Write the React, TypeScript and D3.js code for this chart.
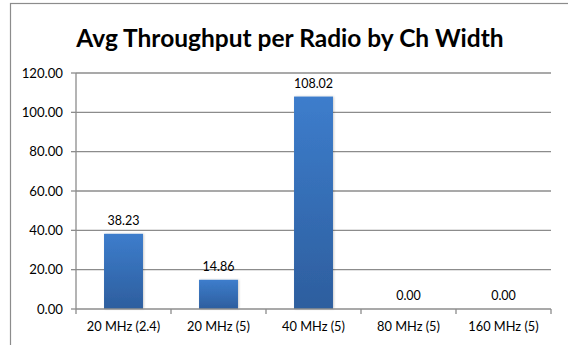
import React from "react";
import * as d3 from "d3";

const categories = ["20 MHz (2.4)", "20 MHz (5)", "40 MHz (5)", "80 MHz (5)", "160 MHz (5)"];
const values = [38.23, 14.86, 108.02, 0.0, 0.0];
const yTicks = [0, 20, 40, 60, 80, 100, 120];
const title = "Avg Throughput per Radio by Ch Width";

const W = 568;
const H = 345;
const margin = { left: 76, right: 17, top: 73, bottom: 36 };
const FONT = "Lato, 'Open Sans', sans-serif";

export default function App() {
  const x = d3
    .scaleBand<string>()
    .domain(categories)
    .range([margin.left, W - margin.right])
    .paddingInner(0.59)
    .paddingOuter(0.295);
  const xOuter = d3.scaleBand<string>().domain(categories).range([margin.left, W - margin.right]);
  const y = d3.scaleLinear().domain([0, 120]).range([H - margin.bottom, margin.top]);
  const y0 = y(0);
  return (
    <svg width={W} height={H} style={{ position: "absolute", left: 0, top: 0, background: "#fff" }}>
      <defs>
        <linearGradient id="barGrad" x1="0" y1="0" x2="0" y2="1">
          <stop offset="0%" stopColor="#3d7dcc" />
          <stop offset="100%" stopColor="#2d5e9e" />
        </linearGradient>
        <filter id="sh" x="-20%" y="-5%" width="140%" height="110%">
          <feDropShadow dx="1" dy="0" stdDeviation="1" floodColor="#000" floodOpacity="0.2" />
        </filter>
      </defs>
      <rect x={10.5} y={3.5} width={W + 10} height={H + 10} fill="#fff" stroke="#8c8c8c" strokeWidth={1.2} />
      <text x={290} y={47} textAnchor="middle" fontFamily={FONT} fontWeight="bold" fontSize={24.5} fill="#000">
        {title}
      </text>
      {yTicks.map((t) => (
        <g key={t}>
          {t > 0 && (
            <line x1={margin.left} x2={W - margin.right} y1={y(t)} y2={y(t)} stroke="#8c8c8c" strokeWidth={1.3} />
          )}
          <line x1={margin.left - 5} x2={margin.left} y1={y(t)} y2={y(t)} stroke="#8c8c8c" strokeWidth={1.3} />
          <text x={margin.left - 13} y={y(t)} dy="0.35em" textAnchor="end" fontFamily={FONT} fontSize={13.2} fill="#000">
            {t.toFixed(2)}
          </text>
        </g>
      ))}
      <line x1={margin.left} x2={margin.left} y1={margin.top} y2={y0} stroke="#8c8c8c" strokeWidth={1.3} />
      {categories.map((c, i) => (
        <g key={c}>
          <rect
            x={x(c)}
            y={y(values[i])}
            width={x.bandwidth()}
            height={y0 - y(values[i])}
            fill="url(#barGrad)"
            filter="url(#sh)"
          />
          <text
            x={(x(c) as number) + x.bandwidth() / 2}
            y={y(values[i]) - 9}
            textAnchor="middle"
            fontFamily={FONT}
            fontSize={12.5}
            fill="#000"
          >
            {values[i].toFixed(2)}
          </text>
          <text
            x={(xOuter(c) as number) + xOuter.bandwidth() / 2}
            y={y0 + 22}
            textAnchor="middle"
            fontFamily={FONT}
            fontSize={12.8}
            fill="#000"
          >
            {c}
          </text>
        </g>
      ))}
      <line x1={margin.left} x2={W - margin.right} y1={y0} y2={y0} stroke="#8c8c8c" strokeWidth={1.3} />
      {d3.range(categories.length + 1).map((i) => {
        const xx = margin.left + i * xOuter.step();
        return <line key={i} x1={xx} x2={xx} y1={y0} y2={y0 + 5} stroke="#8c8c8c" strokeWidth={1.3} />;
      })}
    </svg>
  );
}
